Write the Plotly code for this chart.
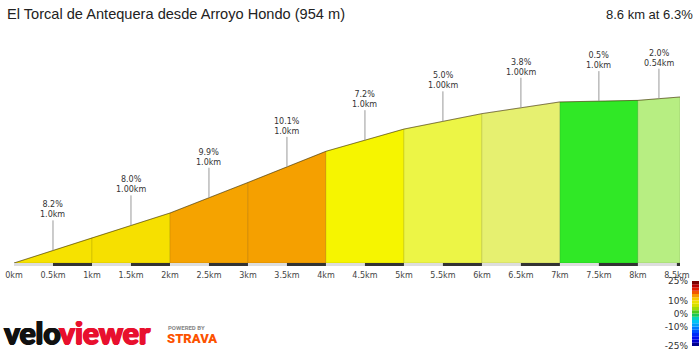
import plotly.graph_objects as go

# ---- data ----
distances = [0, 1, 2, 3, 4, 5, 6, 7, 8, 8.54]
elevations = [416, 498, 578, 677, 778, 850, 900, 938, 943, 954]
seg_grades = [8.2, 8.0, 9.9, 10.1, 7.2, 5.0, 3.8, 0.5, 2.0]
seg_lengths = ["1.0km", "1.00km", "1.0km", "1.0km", "1.0km", "1.00km", "1.00km", "1.0km", "0.54km"]
seg_colors = ["#F6E200", "#F6E000", "#F5A300", "#F5A000", "#F6F500",
              "#ECF546", "#E6F070", "#30E826", "#B7EE82"]
tick_vals = [0, 0.5, 1, 1.5, 2, 2.5, 3, 3.5, 4, 4.5, 5, 5.5, 6, 6.5, 7, 7.5, 8, 8.5]
tick_text = ["0km", "0.5km", "1km", "1.5km", "2km", "2.5km", "3km", "3.5km", "4km",
             "4.5km", "5km", "5.5km", "6km", "6.5km", "7km", "7.5km", "8km", "8.5km"]
title_text = "El Torcal de Antequera desde Arroyo Hondo (954 m)"
summary_text = "8.6 km at 6.3%"
legend_bases = [-25, -22.5, -20, -17.5, -15, -12.5, -10, -7.5, -5, -2.5,
                0, 2.5, 5, 7.5, 10, 12.5, 15, 17.5, 20, 22.5]
legend_step = 2.5
legend_ticks = [-25, -10, 0, 10, 25]
legend_ticktext = ["-25%", "-10%", "0%", "10%", "25%"]

W, H = 700, 350
base = elevations[0]
y_min, y_max = 406.3, 1171

fig = go.Figure()

# profile segments
for i in range(len(seg_grades)):
    x0, x1 = distances[i], distances[i + 1]
    fig.add_trace(go.Scatter(
        x=[x0, x0, x1, x1, x0], y=[base, elevations[i], elevations[i + 1], base, base],
        fill="toself", fillcolor=seg_colors[i], mode="lines",
        line=dict(color="rgba(0,0,0,0.10)", width=1),
        hoverinfo="skip", showlegend=False, xaxis="x", yaxis="y"))

# top edge line
fig.add_trace(go.Scatter(x=distances, y=elevations, mode="lines",
                         line=dict(color="rgba(70,55,0,0.6)", width=1),
                         hoverinfo="skip", showlegend=False))

# gradient legend (stacked colour blocks)
colorscale = [
    [0.00, "#000070"], [0.10, "#0000E8"], [0.20, "#0038FF"], [0.30, "#0090FF"],
    [0.40, "#00D8F0"], [0.50, "#22C422"], [0.60, "#C8E000"], [0.70, "#F8E000"],
    [0.77, "#F8A000"], [0.84, "#F04000"], [0.90, "#D80000"], [1.00, "#5A0000"]]
fig.add_trace(go.Bar(
    x=[0] * len(legend_bases), y=[legend_step] * len(legend_bases), base=legend_bases,
    width=1,
    marker=dict(color=[b + legend_step / 2 for b in legend_bases], colorscale=colorscale,
                cmin=-25, cmax=25, line=dict(width=0)),
    hoverinfo="skip", showlegend=False, xaxis="x2", yaxis="y2"))

shapes = []
ends = tick_vals + [distances[-1]]
shapes.append(dict(type="rect", xref="x", yref="y", x0=0, x1=distances[-1],
                   y0=y_min, y1=base, fillcolor="#DDDDDD", line=dict(width=0), layer="above"))
for i in range(len(ends) - 1):
    if i % 2 == 1:
        shapes.append(dict(type="rect", xref="x", yref="y", x0=ends[i], x1=ends[i + 1],
                           y0=y_min, y1=base, fillcolor="#333333", line=dict(width=0),
                           layer="above"))

annotations = []
for i in range(len(seg_grades)):
    xm = (distances[i] + distances[i + 1]) / 2
    ym = (elevations[i] + elevations[i + 1]) / 2
    annotations.append(dict(
        x=xm, y=ym, xref="x", yref="y", text=f"{seg_grades[i]:.1f}%<br>{seg_lengths[i]}",
        showarrow=True, arrowhead=0, arrowwidth=1, arrowcolor="#999999",
        ax=0, ay=-30, standoff=0, borderpad=0, yanchor="bottom",
        font=dict(family="DejaVu Sans", size=8, color="#333333")))

annotations.append(dict(xref="paper", yref="paper", x=5 / W, y=1 - 14 / H,
                        xanchor="left", yanchor="middle", showarrow=False,
                        text=title_text,
                        font=dict(family="Liberation Sans, Arial", size=14.6, color="#222222")))
annotations.append(dict(xref="paper", yref="paper", x=695 / W, y=1 - 14 / H,
                        xanchor="right", yanchor="middle", showarrow=False,
                        text=summary_text,
                        font=dict(family="Liberation Sans, Arial", size=13, color="#222222")))
# logo
annotations.append(dict(xref="paper", yref="paper", x=2 / W, y=1 - 332 / H,
                        xanchor="left", yanchor="middle", showarrow=False,
                        text="velo",
                        font=dict(family="Lato, Roboto", size=30, weight=900, color="#111111",
                                  shadow="1px 0 0 #111111, -0.8px 0 0 #111111, 0 0.8px 0 #111111, 0 -0.5px 0 #111111")))
annotations.append(dict(xref="paper", yref="paper", x=57 / W, y=1 - 332 / H,
                        xanchor="left", yanchor="middle", showarrow=False,
                        text="viewer",
                        font=dict(family="Lato, Roboto", size=30, weight=900, color="#E8102E",
                                  shadow="1px 0 0 #E8102E, -0.8px 0 0 #E8102E, 0 0.8px 0 #E8102E, 0 -0.5px 0 #E8102E")))
annotations.append(dict(xref="paper", yref="paper", x=166 / W, y=1 - 327 / H,
                        xanchor="left", yanchor="middle", showarrow=False,
                        text="POWERED BY",
                        font=dict(family="Roboto, DejaVu Sans", size=6, color="#888888", weight=700)))
annotations.append(dict(xref="paper", yref="paper", x=165 / W, y=1 - 338 / H,
                        xanchor="left", yanchor="middle", showarrow=False,
                        text="STRAVA",
                        font=dict(family="Roboto, DejaVu Sans", size=13, color="#FC5200", weight=900)))

fig.update_layout(
    width=W, height=H, margin=dict(l=0, r=0, t=0, b=0, autoexpand=False),
    paper_bgcolor="white", plot_bgcolor="white", showlegend=False,
    xaxis=dict(domain=[14 / W, 680 / W], range=[0, distances[-1]], automargin=False,
               showgrid=False, zeroline=False, showline=False,
               tickvals=tick_vals, ticktext=tick_text, ticks="", ticklabelstandoff=3,
               ticklabeloverflow="allow",
               tickfont=dict(family="DejaVu Sans", size=8, color="#444444")),
    yaxis=dict(domain=[84 / H, 320 / H], range=[y_min, y_max], automargin=False,
               showgrid=False, zeroline=False, showline=False, showticklabels=False),
    xaxis2=dict(domain=[692 / W, 699 / W], range=[-0.5, 0.5], anchor="y2", automargin=False,
                showgrid=False, zeroline=False, showline=False, showticklabels=False),
    yaxis2=dict(domain=[4 / H, 69 / H], range=[-25, 25], anchor="x2", automargin=False,
                showgrid=False, zeroline=False, showline=False, side="left",
                tickvals=legend_ticks, ticktext=legend_ticktext, ticks="",
                ticklabelstandoff=3, ticklabeloverflow="allow",
                tickfont=dict(family="DejaVu Sans", size=9, color="#333333")),
    shapes=shapes, annotations=annotations,
)

fig.write_html("out.html")
